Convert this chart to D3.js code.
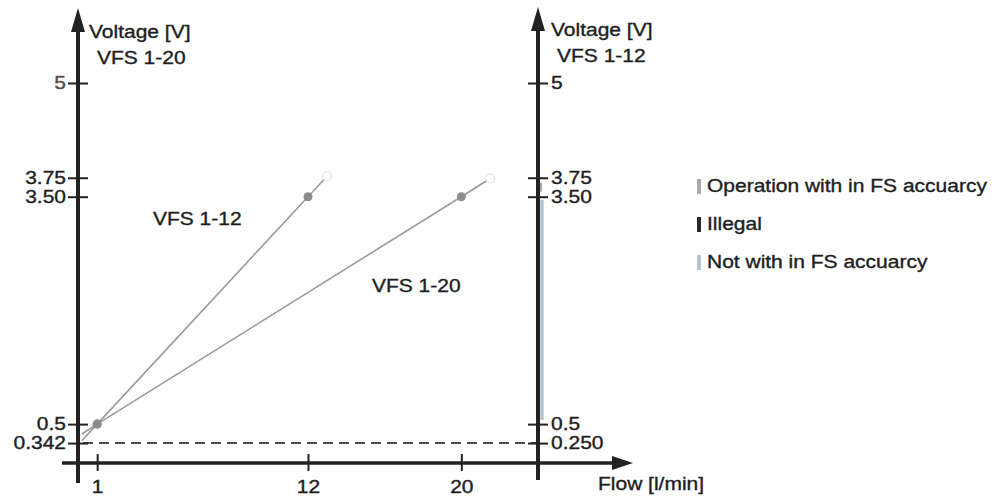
<!DOCTYPE html>
<html><head><meta charset="utf-8">
<script src="https://cdn.jsdelivr.net/npm/d3@7"></script>
<style>
html,body{margin:0;padding:0;background:#fff;}
svg text{font-family:"Liberation Sans",Arial,sans-serif;font-size:17.5px;fill:#1e1e1e;stroke:#1e1e1e;stroke-width:0.35px;}
</style></head>
<body><svg id="c" width="992" height="502"></svg>
<script>
// ---- data ----
const flowTicks = [1, 12, 20];
const leftTicks = [5, 3.75, 3.5, 0.5, 0.342];
const leftTickLabels = ["5", "3.75", "3.50", "0.5", "0.342"];
const rightTicks = [5, 3.75, 3.5, 0.5, 0.25];
const rightTickLabels = ["5", "3.75", "3.50", "0.5", "0.250"];
const vfs12Flow = [0.2, 1, 12, 13];
const vfs12Volt = [0.28, 0.5, 3.5, 3.77];
const vfs20Flow = [0.2, 1, 20, 21.5];
const vfs20Volt = [0.37, 0.5, 3.5, 3.74];
const legendLabels = ["Operation with in FS accuarcy", "Illegal", "Not with in FS accuarcy"];
const legendColors = ["#a9a9a9", "#2a2a2a", "#b4c6d2"];

const svg = d3.select("#c");
const x = d3.scaleLinear().domain([0, 24]).range([78, 538]);
const y = d3.scaleLinear().domain([0, 5]).range([462, 83]);
// left (VFS 1-20) axis is schematic near the bottom: 0.342 sits on the dashed level
const yLeft = d3.scaleLinear().domain([0, 0.342, 0.5, 5]).range([462, y(0.25), y(0.5), y(5)]);
const SX = 1.2;
function stretch(sel){
  sel.each(function(){
    const t = d3.select(this);
    const X = +t.attr("x") || 0;
    t.attr("transform", `translate(${X*(1-SX)},0) scale(${SX},1)`);
  });
}
const ink = "#222";

// right axis colour bands
svg.append("line").attr("x1", x(24)+4).attr("x2", x(24)+4)
  .attr("y1", y(3.5)+3).attr("y2", y(0.5)-4)
  .attr("stroke", legendColors[2]).attr("stroke-width", 3.5);
svg.append("line").attr("x1", x(24)+3).attr("x2", x(24)+3)
  .attr("y1", y(3.75)+5).attr("y2", y(3.5)-5)
  .attr("stroke", legendColors[0]).attr("stroke-width", 2);

// dashed reference line
svg.append("line").attr("x1", x(0)+5).attr("x2", x(24)-2)
  .attr("y1", y(0.25)).attr("y2", y(0.25))
  .attr("stroke", "#4a4a4a").attr("stroke-width", 2).attr("stroke-dasharray", "10,6");

// vertical axes
[[x(0), 483, 8], [x(24), 480, 7]].forEach(([ax, yb, yt]) => {
  svg.append("line").attr("x1", ax).attr("x2", ax).attr("y1", yb).attr("y2", yt+18)
    .attr("stroke", ink).attr("stroke-width", 4);
  svg.append("path").attr("d", `M${ax},${yt} L${ax-7},${yt+24} L${ax+7},${yt+24} Z`).attr("fill", ink);
});
// x axis line
svg.append("line").attr("x1", 62).attr("x2", 618).attr("y1", y(0)+1).attr("y2", y(0)+1)
  .attr("stroke", ink).attr("stroke-width", 3.5);
svg.append("path").attr("d", `M633,${y(0)+1} L612,${y(0)-6} L612,${y(0)+8} Z`).attr("fill", ink);

// left axis ticks
const gl = svg.append("g").attr("transform", `translate(${x(0)+10},0)`)
  .call(d3.axisLeft(yLeft).tickValues(leftTicks).tickSize(20).tickPadding(2)
    .tickFormat((d,i) => leftTickLabels[i]));
// right axis ticks
const gr = svg.append("g").attr("transform", `translate(${x(24)-10},0)`)
  .call(d3.axisRight(y).tickValues(rightTicks).tickSize(20).tickPadding(3)
    .tickFormat((d,i) => rightTickLabels[i]));
// x axis ticks
const gx = svg.append("g").attr("transform", `translate(0,${y(0)-8})`)
  .call(d3.axisBottom(x).tickValues(flowTicks).tickSize(17).tickPadding(10)
    .tickFormat(d3.format("d")));
[gl, gr, gx].forEach(g => {
  g.select(".domain").remove();
  g.selectAll(".tick line").attr("stroke", ink).attr("stroke-width", 2);
  g.selectAll("text").attr("font-size", null).attr("font-family", null).attr("fill", null);
  stretch(g.selectAll("text"));
});
gl.selectAll(".tick text").filter(d => d === 5).style("fill", "#5a4848").style("stroke", "#5a4848");

// series lines
const line = d3.line().x(d => x(d[0])).y(d => y(d[1]));
const series = [d3.zip(vfs12Flow, vfs12Volt), d3.zip(vfs20Flow, vfs20Volt)];
series.forEach(s => {
  svg.append("path").attr("d", line(s)).attr("fill", "none")
    .attr("stroke", "#9a9a9a").attr("stroke-width", 1.6);
});
series.forEach(s => {
  svg.selectAll(null).data(s.slice(1, 3)).enter().append("circle")
    .attr("cx", d => x(d[0])).attr("cy", d => y(d[1])).attr("r", 4.5).attr("fill", "#8c8c8c");
  const e = s[s.length-1];
  svg.append("circle").attr("cx", x(e[0])).attr("cy", y(e[1])).attr("r", 4.5)
    .attr("fill", "#fff").attr("stroke", "#e0e0e0").attr("stroke-width", 1.2);
});

// axis titles
function txt(X, Y, s, anchor){
  const t = svg.append("text").attr("x", X).attr("y", Y).attr("text-anchor", anchor || "start").text(s);
  stretch(t);
  return t;
}
txt(89, 38, "Voltage [V]");
txt(97, 64, "VFS 1-20");
txt(551, 36, "Voltage [V]");
txt(557, 62, "VFS 1-12");
txt(598, 490, "Flow [l/min]");
// series annotations
txt(153, 225, "VFS 1-12");
txt(372, 292, "VFS 1-20");

// legend
legendLabels.forEach((l, i) => {
  const yy = 186 + i*38;
  svg.append("rect").attr("x", 697).attr("y", yy-7).attr("width", 4).attr("height", 15)
    .attr("fill", legendColors[i]);
  txt(707, yy+6, l);
});
</script></body></html>
